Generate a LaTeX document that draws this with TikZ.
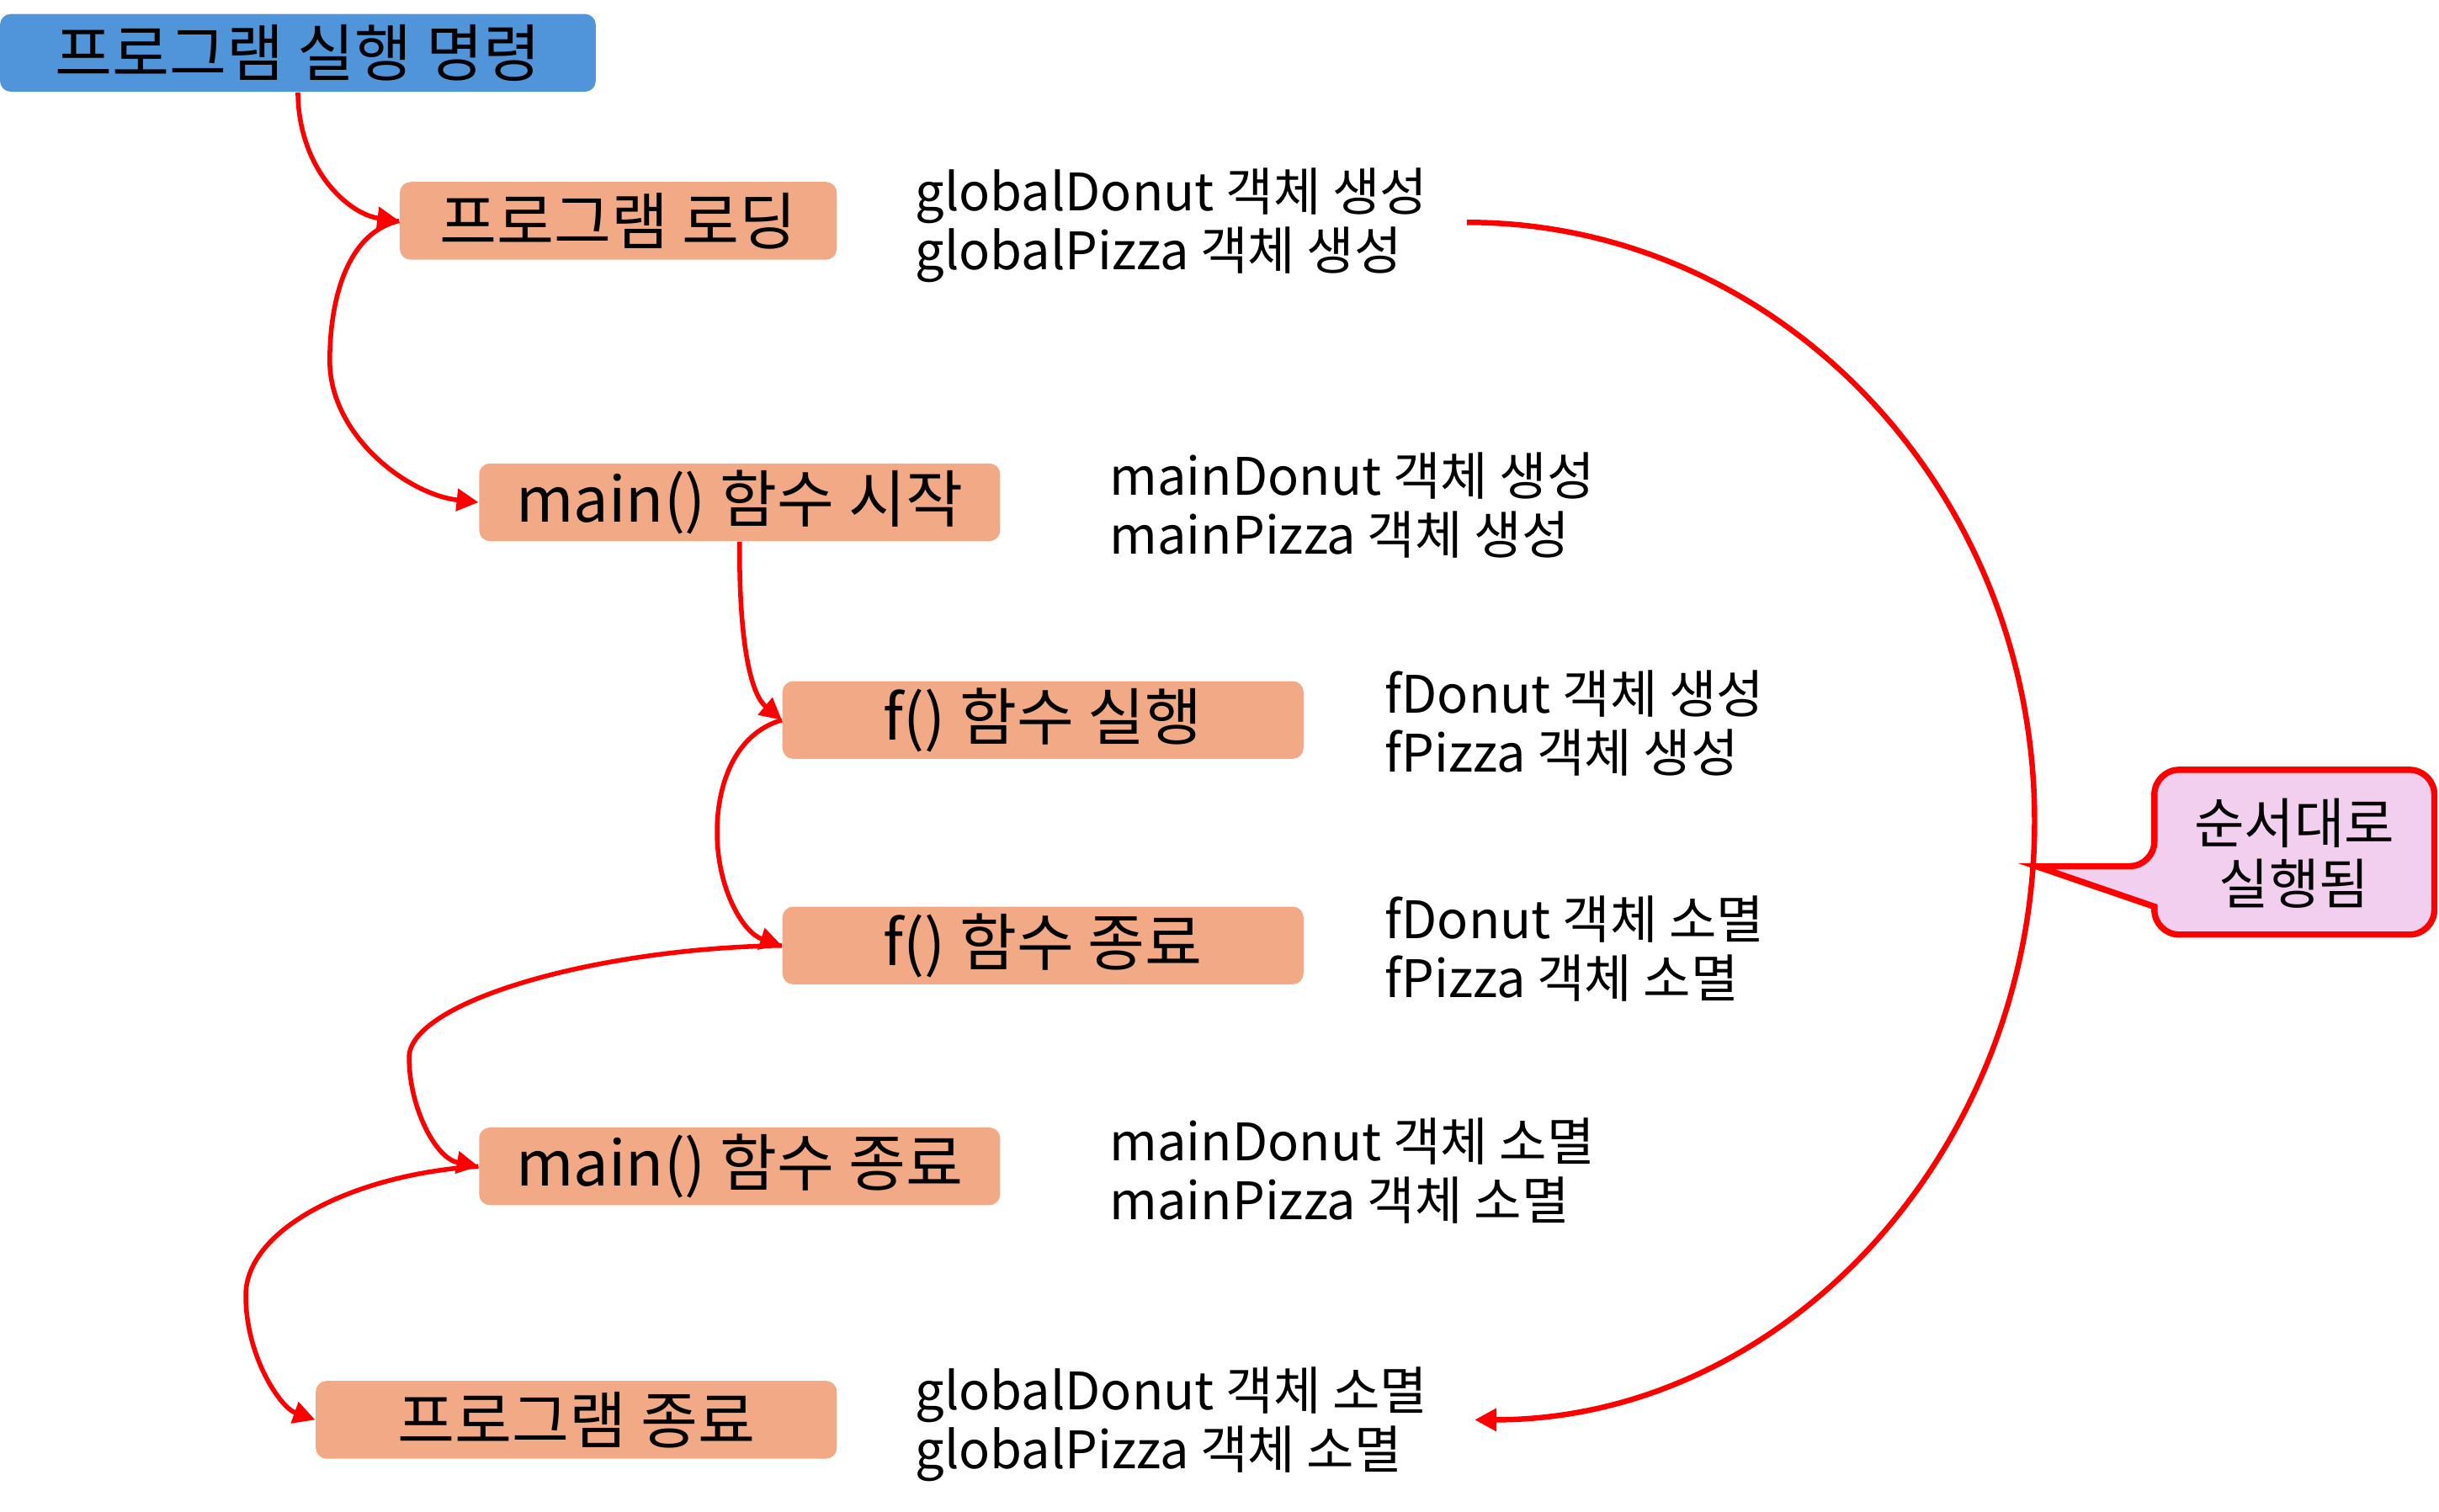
\documentclass[tikz,border=0pt]{standalone}
\usepackage{fontspec}
\setmainfont{Noto Sans CJK KR}
\usetikzlibrary{arrows.meta}
\definecolor{boxblue}{RGB}{80,148,218}
\definecolor{boxsalmon}{RGB}{241,170,133}
\definecolor{calloutpink}{RGB}{242,206,239}
\definecolor{linered}{RGB}{255,0,0}
\begin{document}
\begin{tikzpicture}[x=0.5pt,y=-0.5pt,
  stepbox/.style={rectangle, rounded corners=3.5pt, fill=boxsalmon, minimum width=167.5pt, minimum height=25pt, inner sep=0pt, font=\fontsize{20}{23}\selectfont},
  startbox/.style={stepbox, fill=boxblue},
  note/.style={anchor=west, align=left, inner sep=0pt, font=\fontsize{16.6}{19}\selectfont},
  flow/.style={draw=linered, line width=1.5pt, -{Triangle[length=7pt,width=7pt]}},
  bubble/.style={draw=linered, fill=calloutpink, line width=2pt},
]
\useasboundingbox (0,0) rectangle (1568,972);

\node[startbox, minimum width=191.5pt] (cmd) at (191.5,34) {프로그램 실행 명령};
\node[stepbox, minimum width=140.5pt] (load) at (397.5,142) {프로그램 로딩};
\node[stepbox] (mainstart) at (475.5,323) {main() 함수 시작};
\node[stepbox] (fexec) at (670.5,463) {f() 함수 실행};
\node[stepbox] (fend) at (670.5,608) {f() 함수 종료};
\node[stepbox] (mainend) at (475.5,750) {main() 함수 종료};
\node[stepbox] (progend) at (370.5,913) {프로그램 종료};

\node[note] (gc) at (588,145) {globalDonut 객체 생성\\globalPizza 객체 생성};
\node[note] (mc) at (713,325) {mainDonut 객체 생성\\mainPizza 객체 생성};
\node[note] (fc) at (890,465) {fDonut 객체 생성\\fPizza 객체 생성};
\node[note] (fd) at (890,610) {fDonut 객체 소멸\\fPizza 객체 소멸};
\node[note] (md) at (713,753) {mainDonut 객체 소멸\\mainPizza 객체 소멸};
\node[note] (gd) at (588,916) {globalDonut 객체 소멸\\globalPizza 객체 소멸};

\draw[flow] (cmd.south) .. controls (192,110) and (225,138) .. (load.west);
\draw[flow] (load.west) .. controls (222,150) and (212,195) .. (212,232) .. controls (212,280) and (262,318) .. (mainstart.west);
\draw[flow] (mainstart.south) .. controls (475,405) and (481,445) .. (fexec.west);
\draw[flow] (fexec.west) .. controls (472,472) and (461,505) .. (461,535) .. controls (461,572) and (478,600) .. (fend.west);
\draw[flow] (fend.west) .. controls (380,610) and (263,645) .. (263,680) .. controls (263,712) and (280,745) .. (mainend.west);
\draw[flow] (mainend.west) .. controls (228,755) and (158,790) .. (158,833) .. controls (158,872) and (180,905) .. (progend.west);

\coordinate (arcstart) at (943,143);
\coordinate (arcend) at (948,913);
\draw[flow, line width=1.75pt] (arcstart) .. controls (1144,143) and (1308,315) .. (1308,528) .. controls (1308,740) and (1147,913) .. (arcend);

\draw[bubble, rounded corners=8pt] (1475,495) -- (1385,495) -- (1385,557) [sharp corners] -- (1309,557) -- (1385,583) [rounded corners=8pt] -- (1385,601) -- (1565,601) -- (1565,495) -- cycle;
\node[font=\fontsize{17.5}{19.5}\selectfont, align=center] (callout) at (1475,549) {순서대로\\실행됨};
\end{tikzpicture}
\end{document}
